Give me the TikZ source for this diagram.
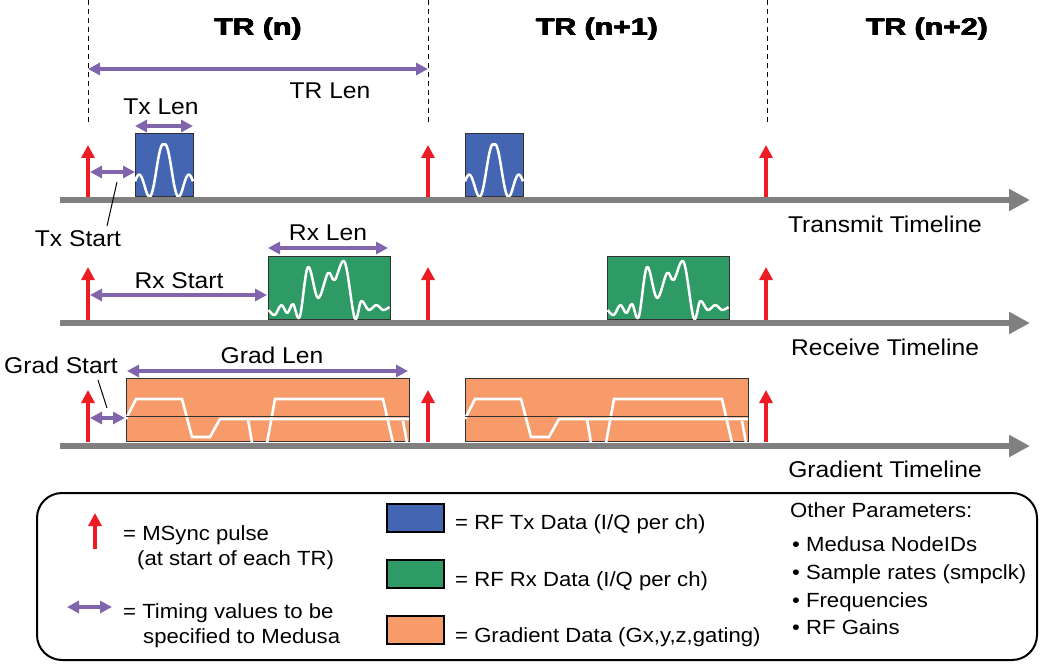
\documentclass[tikz,border=0pt]{standalone}
\usepackage{fontspec}
\setmainfont{Liberation Sans}[FakeStretch=1.08]
\newfontfamily\trfont{Liberation Sans Bold}[FakeStretch=1.26]
\newcommand\heavytxt[1]{\makebox[0pt][l]{#1}\makebox[0pt][l]{\kern0.8pt #1}\makebox[0pt][l]{\raisebox{0.5pt}{#1}}\makebox[0pt][l]{\kern0.8pt\raisebox{0.5pt}{#1}}\kern0.4pt #1\kern0.4pt}
\usetikzlibrary{arrows.meta}
\definecolor{txblue}{RGB}{68,102,178}
\definecolor{rxgreen}{RGB}{46,155,102}
\definecolor{gradorange}{RGB}{247,155,106}
\definecolor{tpurple}{RGB}{128,100,172}
\definecolor{msred}{RGB}{237,28,36}
\definecolor{tlgray}{RGB}{128,128,128}
\definecolor{boxedge}{RGB}{50,50,50}
\tikzset{
  timeline/.style={draw=tlgray, line width=6pt, -{Triangle[width=21pt,length=21pt]}},
  msync/.style={draw=msred, line width=4.5pt, -{Triangle[width=13pt,length=13pt]}},
  timing/.style={draw=tpurple, line width=4pt, {Triangle[width=12pt,length=12pt]}-{Triangle[width=12pt,length=12pt]}},
  trdash/.style={draw=black, line width=1pt, dash pattern=on 5pt off 4pt},
  callout/.style={draw=black, line width=1pt},
  blockbox/.style={draw=boxedge, line width=1pt, inner sep=0pt, anchor=south west},
  txbox/.style={blockbox, fill=txblue, minimum width=58pt, minimum height=63pt},
  rxbox/.style={blockbox, fill=rxgreen, minimum width=122pt, minimum height=63pt},
  grbox/.style={blockbox, fill=gradorange, minimum width=283pt, minimum height=63pt},
  wave/.style={draw=white, line width=2.5pt},
  lbl/.style={inner sep=0pt, font=\fontsize{22.8}{26}\selectfont},
  leg/.style={inner sep=0pt, anchor=base west, font=\fontsize{20.5}{24}\selectfont},
  trlbl/.style={inner sep=0pt, anchor=base, font=\fontsize{24}{28}\selectfont\trfont},
  swatch/.style={draw=black, line width=1.5pt, inner sep=0pt, minimum width=57pt, minimum height=28pt, anchor=north west}
}
\begin{document}
\begin{tikzpicture}[x=1pt,y=-1pt]
\useasboundingbox (0,0) rectangle (1050,666);

% ---------- TR boundaries ----------
\foreach \n/\xx in {1/88,2/428,3/767}{
  \coordinate (dt\n) at (\xx,0);
  \coordinate (db\n) at (\xx,125);
  \draw[trdash] (dt\n) -- (db\n);
}
\node[trlbl] (trn)  at (258,36) {\heavytxt{TR (n)}};
\node[trlbl] (trn1) at (597,36) {\heavytxt{TR (n+1)}};
\node[trlbl] (trn2) at (927,36) {\heavytxt{TR (n+2)}};

% TR Len
\coordinate (trl1) at (88,69);
\coordinate (trl2) at (428,69);
\draw[timing] (trl1) -- (trl2);
\node[lbl, anchor=base] (trlen) at (330,99) {TR Len};

% ---------- Transmit timeline ----------
\node[txbox] (tx1) at (135,197) {};
\node[txbox] (tx2) at (465,197) {};
\foreach \bx in {135,465}{
  \draw[wave] plot[domain=-29:29, samples=100, smooth] ({\bx+29+\x},{184-39*(1+0.035*abs(\x))*sin(18*\x)/(0.314159*\x)});
}
\coordinate (tls) at (60,200);
\coordinate (tle) at (1030,200);
\draw[timeline] (tls) -- (tle);
\foreach \n/\xx in {1/88,2/428,3/766}{
  \coordinate (tmb\n) at (\xx,197);
  \coordinate (tmt\n) at (\xx,145);
  \draw[msync] (tmb\n) -- (tmt\n);
}
\coordinate (txl1) at (135,126);
\coordinate (txl2) at (193,126);
\draw[timing] (txl1) -- (txl2);
\node[lbl, anchor=base] (txlen) at (161,115) {Tx Len};
\coordinate (txs1) at (90,172);
\coordinate (txs2) at (135,172);
\draw[timing] (txs1) -- (txs2);
\node[lbl, anchor=base] (txstart) at (78,246) {Tx Start};
\coordinate (txc1) at (117,182);
\coordinate (txc2) at (107,226);
\draw[callout] (txc1) -- (txc2);
\node[lbl, anchor=base] (txtl) at (885,232) {Transmit Timeline};

% ---------- Receive timeline ----------
\node[rxbox] (rx1) at (268,320) {};
\node[rxbox] (rx2) at (607,320) {};
\foreach \bx in {268,607}{
  \draw[wave, line join=round] plot[smooth, tension=0.6] coordinates {
    ({\bx+0.7},310) ({\bx+6.7},315) ({\bx+13.3},305) ({\bx+19.3},313) ({\bx+25},304)
    ({\bx+31.7},317) ({\bx+40},267) ({\bx+50},298) ({\bx+60},273) ({\bx+66.7},280)
    ({\bx+76.7},262) ({\bx+86.7},318) ({\bx+93.3},301) ({\bx+100.7},310)
    ({\bx+108.3},305) ({\bx+115},310) ({\bx+121.5},307)};
}
\coordinate (rls) at (60,323);
\coordinate (rle) at (1030,323);
\draw[timeline] (rls) -- (rle);
\foreach \n/\xx in {1/88,2/428,3/766}{
  \coordinate (rmb\n) at (\xx,320);
  \coordinate (rmt\n) at (\xx,267);
  \draw[msync] (rmb\n) -- (rmt\n);
}
\coordinate (rxl1) at (268,248);
\coordinate (rxl2) at (388,248);
\draw[timing] (rxl1) -- (rxl2);
\node[lbl, anchor=base] (rxlen) at (328,240) {Rx Len};
\coordinate (rxs1) at (90,295);
\coordinate (rxs2) at (267,295);
\draw[timing] (rxs1) -- (rxs2);
\node[lbl, anchor=base] (rxstart) at (179,288) {Rx Start};
\node[lbl, anchor=base] (rxtl) at (885,355) {Receive Timeline};

% ---------- Gradient timeline ----------
\node[grbox] (gr1) at (126,442) {};
\node[grbox] (gr2) at (465,442) {};
\foreach \bx in {126,465}{
  \begin{scope}
    \clip (\bx,379) rectangle (\bx+283,442);
    \draw[wave, line width=2.6pt] (\bx,419) -- (\bx+10,399) -- (\bx+56,399) -- (\bx+66,437) -- (\bx+84,437) -- (\bx+94,419) -- (\bx+283,419);
    \draw[wave, line width=2.6pt] (\bx+122,419) -- (\bx+126,443);
    \draw[wave, line width=2.6pt] (\bx+141,443) -- (\bx+149,399) -- (\bx+257,399) -- (\bx+267,443);
    \draw[wave, line width=2.6pt] (\bx+277,421) -- (\bx+281,443);
  \end{scope}
  \draw[draw=boxedge, line width=1pt] (\bx,416.5) -- (\bx+283,416.5);
}
\coordinate (gls) at (60,446);
\coordinate (gle) at (1030,446);
\draw[timeline] (gls) -- (gle);
\foreach \n/\xx in {1/88,2/428,3/766}{
  \coordinate (gmb\n) at (\xx,442);
  \coordinate (gmt\n) at (\xx,390);
  \draw[msync] (gmb\n) -- (gmt\n);
}
\coordinate (grl1) at (127,371);
\coordinate (grl2) at (408,371);
\draw[timing] (grl1) -- (grl2);
\node[lbl, anchor=base] (grlen) at (272,363) {Grad Len};
\coordinate (grs1) at (90,418);
\coordinate (grs2) at (125,418);
\draw[timing] (grs1) -- (grs2);
\node[lbl, anchor=base] (grstart) at (61,373) {Grad Start};
\coordinate (grc1) at (98,380);
\coordinate (grc2) at (107,408);
\draw[callout] (grc1) -- (grc2);
\node[lbl, anchor=base] (grtl) at (885,477) {Gradient Timeline};

% ---------- Legend ----------
\node[draw=black, line width=2pt, rounded corners=25pt, minimum width=1000pt, minimum height=167pt, inner sep=0pt] (legend) at (537,576.5) {};
\coordinate (lmb) at (95,549);
\coordinate (lmt) at (95,513);
\draw[msync] (lmb) -- (lmt);
\node[leg] (lms1) at (123,540) {= MSync pulse};
\node[leg] (lms2) at (137,565) {(at start of each TR)};
\coordinate (ltm1) at (67,607);
\coordinate (ltm2) at (112,607);
\draw[timing] (ltm1) -- (ltm2);
\node[leg] (ltv1) at (123,618) {= Timing values to be};
\node[leg] (ltv2) at (143,643) {specified to Medusa};

\node[swatch, fill=txblue] (swtx) at (386,503) {};
\node[swatch, fill=rxgreen] (swrx) at (386,559) {};
\node[swatch, fill=gradorange] (swgr) at (386,615) {};
\node[leg] (ltx) at (455,529) {= RF Tx Data (I/Q per ch)};
\node[leg] (lrx) at (455,586) {= RF Rx Data (I/Q per ch)};
\node[leg] (lgr) at (455,642) {= Gradient Data (Gx,y,z,gating)};

\node[leg] (lop) at (790,517) {Other Parameters:};
\node[leg] (lp1) at (792,551) {• Medusa NodeIDs};
\node[leg] (lp2) at (792,579) {• Sample rates (smpclk)};
\node[leg] (lp3) at (792,607) {• Frequencies};
\node[leg] (lp4) at (792,634) {• RF Gains};
\end{tikzpicture}
\end{document}
